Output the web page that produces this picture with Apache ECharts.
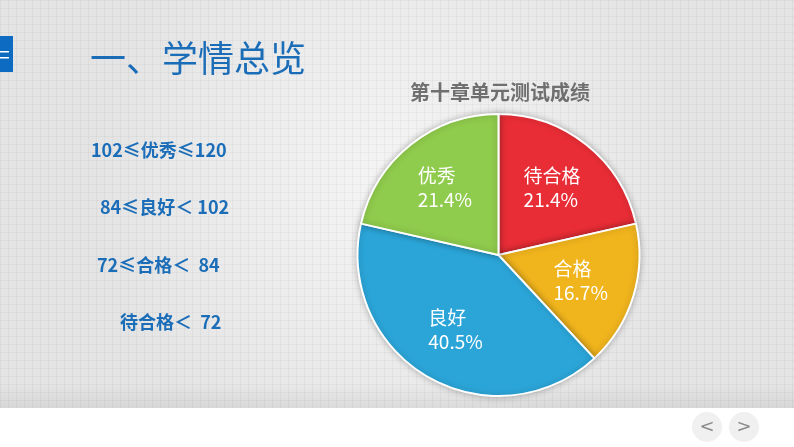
<!DOCTYPE html>
<html>
<head>
<meta charset="utf-8">
<script src="https://cdn.jsdelivr.net/npm/echarts@6/dist/echarts.min.js"></script>
<style>
html,body{margin:0;padding:0;background:#fff;}
#c{width:794px;height:447px;}
</style>
</head>
<body>
<div id="c"></div>
<script>
var categories = ['待合格', '合格', '良好', '优秀'];
var values = [9, 7, 17, 9];
var colors = ['#E82D36', '#F0B41D', '#2BA5D8', '#8FCB4C'];
var slideTitle = '一、学情总览';
var chartTitle = '第十章单元测试成绩';
var rangeLines = ['102≤优秀≤120', '84≤良好＜ 102', '72≤合格＜  84', '待合格＜  72'];

var pat = document.createElement('canvas');
pat.width = 8; pat.height = 8;
var pc = pat.getContext('2d');
pc.fillStyle = 'rgba(0,0,0,0.035)';
pc.fillRect(0, 0, 8, 1);
pc.fillRect(0, 0, 1, 8);

var chart = echarts.init(document.getElementById('c'), null, {renderer: 'canvas'});
var data = categories.map(function (n, i) { return {name: n, value: values[i], itemStyle: {color: colors[i]}}; });
var rangeX = [91, 100, 97, 120];
var rangeY = [150, 207, 265, 322];
var graphics = [
  {type: 'rect', z: -10, shape: {x: 0, y: 0, width: 794, height: 408},
   style: {fill: {type: 'radial', x: 0.5, y: 0.45, r: 0.75, colorStops: [{offset: 0, color: '#f5f5f5'}, {offset: 1, color: '#e4e4e4'}]}}},
  {type: 'rect', z: -9, shape: {x: 0, y: 0, width: 794, height: 408}, style: {fill: {image: pat, repeat: 'repeat'}}},
  {type: 'rect', z: -8, shape: {x: 0, y: 384, width: 794, height: 24},
   style: {fill: {type: 'linear', x: 0, y: 0, x2: 0, y2: 1, colorStops: [{offset: 0, color: 'rgba(0,0,0,0)'}, {offset: 1, color: 'rgba(0,0,0,0.06)'}]}}},
  {type: 'rect', shape: {x: 0, y: 36, width: 13, height: 36}, style: {fill: '#0D6CC2'}},
  {type: 'rect', shape: {x: 0, y: 51, width: 9, height: 1.5}, style: {fill: '#ffffff'}},
  {type: 'rect', shape: {x: 0, y: 57, width: 9, height: 1.5}, style: {fill: '#ffffff'}},
  {type: 'text', left: 90, top: 40, style: {text: slideTitle, fill: '#1B6DB8', font: '36px "Noto Sans CJK SC"'}},
  {type: 'circle', shape: {cx: 707, cy: 427, r: 15}, style: {fill: '#f0f0f0'}},
  {type: 'circle', shape: {cx: 744, cy: 427, r: 15}, style: {fill: '#f0f0f0'}},
  {type: 'text', x: 707, y: 427, style: {text: '<', fill: '#8a8a8a', font: '18px "DejaVu Sans"', align: 'center', verticalAlign: 'middle'}},
  {type: 'text', x: 744, y: 427, style: {text: '>', fill: '#8a8a8a', font: '18px "DejaVu Sans"', align: 'center', verticalAlign: 'middle'}}
];
rangeLines.forEach(function (t, i) {
  graphics.push({type: 'text', x: rangeX[i], y: rangeY[i], style: {text: t, fill: '#1B6DB8', font: 'bold 18px "Noto Sans CJK SC"', verticalAlign: 'middle'}});
});

chart.setOption({
  animation: false,
  title: {text: chartTitle, left: 495, top: 77, textAlign: 'center',
    textStyle: {color: '#6f6f6f', fontSize: 20, fontWeight: 'bold', fontFamily: 'Noto Sans CJK SC'}},
  graphic: graphics,
  series: [
    {type: 'pie', center: [498.5, 255], radius: [0, 141], startAngle: 90, clockwise: true, silent: true,
     data: data, label: {show: false}, labelLine: {show: false},
     itemStyle: {borderColor: '#ffffff', borderWidth: 2, shadowBlur: 6, shadowColor: 'rgba(0,0,0,0.25)'}},
    {type: 'pie', center: [498.5, 255], radius: [0, 166], startAngle: 90, clockwise: true, silent: true,
     percentPrecision: 1, z: 5,
     data: categories.map(function (n, i) { return {name: n, value: values[i]}; }),
     itemStyle: {color: 'rgba(0,0,0,0)', borderWidth: 0},
     labelLine: {show: false},
     label: {show: true, position: 'inside', formatter: '{a|{b}}\n{a|{d}%}',
       rich: {a: {align: 'left', color: '#ffffff', fontSize: 19, lineHeight: 24, fontFamily: 'Noto Sans CJK SC'}}}}
  ]
});
</script>
</body>
</html>
